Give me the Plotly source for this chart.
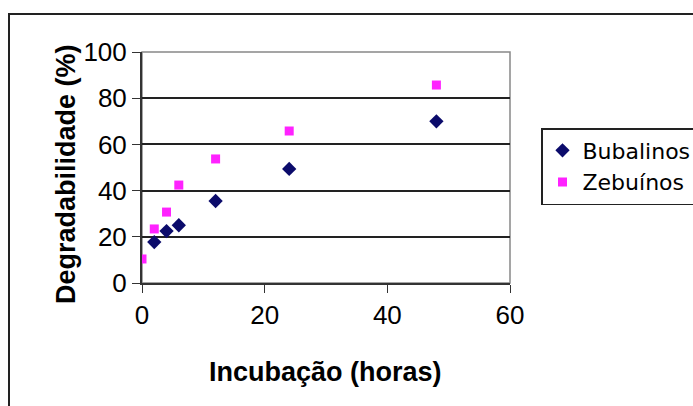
import plotly.graph_objects as go

hours_bub = [2, 4, 6, 12, 24, 48]
bubalinos = [17.7, 22.5, 25, 35.5, 49.4, 70]
hours_zeb = [0, 2, 4, 6, 12, 24, 48]
zebuinos = [10.4, 23.4, 30.7, 42.4, 53.7, 65.8, 85.7]
x_ticks = [0, 20, 40, 60]
y_ticks = [0, 20, 40, 60, 80, 100]

fig = go.Figure()
fig.add_trace(go.Scatter(x=hours_bub, y=bubalinos, mode="markers", name="Bubalinos",
                         marker=dict(symbol="diamond", size=11, color="#0b0b6b")))
fig.add_trace(go.Scatter(x=hours_zeb, y=zebuinos, mode="markers", name="Zebuínos",
                         marker=dict(symbol="square", size=9, color="#ff22ff")))

tickfont = dict(family="Liberation Sans", size=26, color="black")
fig.update_layout(
    width=693, height=406,
    margin=dict(l=142, r=183, t=52, b=123),
    paper_bgcolor="white", plot_bgcolor="white",
    showlegend=True,
    legend=dict(xref="container", yref="container", x=541 / 693, y=1 - 128 / 406,
                xanchor="left", yanchor="top",
                bordercolor="#222", borderwidth=1.5, bgcolor="white",
                font=dict(family="DejaVu Sans", size=22, color="black"),
                itemwidth=30, tracegroupgap=0),
    xaxis=dict(range=[0, 60], tickvals=x_ticks, ticks="outside", ticklen=8,
               tickcolor="#333", showline=True, linecolor="#333", linewidth=2,
               showgrid=False, zeroline=False, tickfont=tickfont),
    yaxis=dict(range=[0, 100], tickvals=y_ticks, ticks="outside", ticklen=8,
               tickcolor="#333", showline=True, linecolor="#333", linewidth=2,
               showgrid=True, gridcolor="#222", gridwidth=1.5, zeroline=False, tickfont=tickfont),
)
fig.add_annotation(text="<b>Incubação (horas)</b>", xref="paper", yref="paper",
                   x=(325 - 142) / 368, y=(283 - 372) / 231, xanchor="center", yanchor="middle",
                   showarrow=False, font=dict(family="Liberation Sans", size=27, color="black"))
fig.add_annotation(text="<b>Degradabilidade (%)</b>", xref="paper", yref="paper",
                   x=(66 - 142) / 368, y=(283 - 174) / 231, xanchor="center", yanchor="middle",
                   textangle=-90, showarrow=False,
                   font=dict(family="Liberation Sans", size=27, color="black"))
# plot area border (right/top)
fig.add_shape(type="rect", xref="paper", yref="paper", x0=0, y0=0, x1=1, y1=1,
              line=dict(color="#888", width=1.5), layer="below")
# outer chart border
fig.add_shape(type="rect", xref="paper", yref="paper",
              x0=(9 - 142) / 368, y0=(283 - 420) / 231, x1=(710 - 142) / 368, y1=(283 - 14) / 231,
              line=dict(color="#222", width=2))
fig.write_html("out.html")
